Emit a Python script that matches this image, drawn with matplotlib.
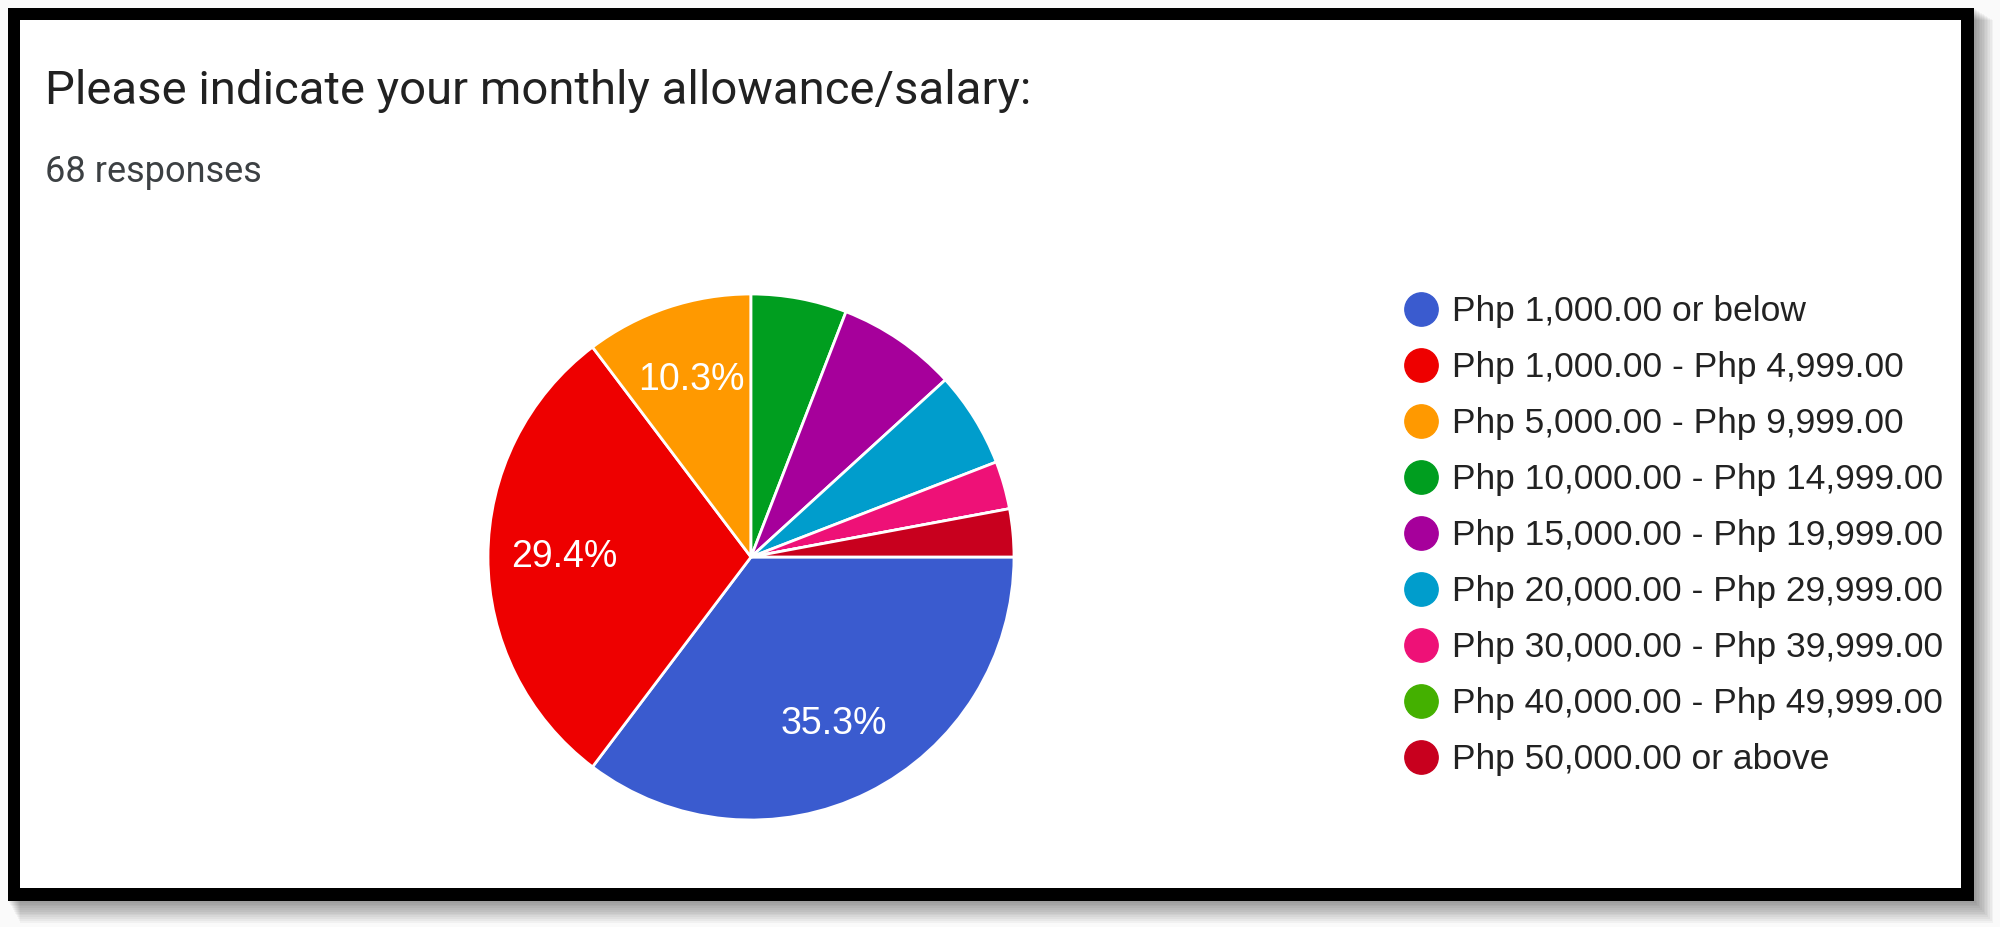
import matplotlib.pyplot as plt
from matplotlib.patches import Rectangle
from matplotlib.lines import Line2D

title = "Please indicate your monthly allowance/salary:"
subtitle = "68 responses"
labels = ["Php 1,000.00 or below", "Php 1,000.00 - Php 4,999.00",
          "Php 5,000.00 - Php 9,999.00", "Php 10,000.00 - Php 14,999.00",
          "Php 15,000.00 - Php 19,999.00", "Php 20,000.00 - Php 29,999.00",
          "Php 30,000.00 - Php 39,999.00", "Php 40,000.00 - Php 49,999.00",
          "Php 50,000.00 or above"]
counts = [24, 20, 7, 4, 5, 4, 2, 0, 2]
colors = ["#3a5bcf", "#ee0000", "#ff9900", "#009e1f", "#a6009b",
          "#009dcc", "#ee1177", "#44b000", "#c8001e"]

W, H = 2000, 927
fig = plt.figure(figsize=(W / 100, H / 100), dpi=100)
fig.patch.set_facecolor("#fafafa")

def px_rect(x0, y0, x1, y1, **kw):
    # image pixel coords (y down) -> figure fraction
    fig.patches.append(Rectangle((x0 / W, 1 - y1 / H), (x1 - x0) / W, (y1 - y0) / H,
                                 transform=fig.transFigure, zorder=-5, **kw))

# drop shadow
for i in range(12, 0, -1):
    px_rect(8 + i, 8 + i, 1974 + i * 1.6, 901 + i * 1.8, color="black", alpha=0.035, lw=0)
px_rect(8, 8, 1974, 901, color="black", lw=0)
px_rect(20, 20, 1961, 888, color="white", lw=0)

fig.text(45 / W, 1 - 91 / H, title, fontsize=34, family="Roboto",
         color="#212121", va="center", ha="left")
fig.text(45 / W, 1 - 172 / H, subtitle, fontsize=26, family="Roboto",
         color="#3c4043", va="center", ha="left")

cx, cy, r = 751, 557, 263
pad = 1.05
ax = fig.add_axes([(cx - r * pad) / W, 1 - (cy + r * pad) / H, 2 * r * pad / W, 2 * r * pad / H])

def pct(p):
    return f"{p:.1f}%" if p >= 10 else ""

wedges, texts, autotexts = ax.pie(counts, colors=colors, startangle=0, counterclock=False,
                                  autopct=pct, pctdistance=0.71,
                                  wedgeprops=dict(edgecolor="white", linewidth=2),
                                  textprops=dict(color="white", fontsize=27, family="Liberation Sans"))
ax.set_xlim(-pad, pad)
ax.set_ylim(-pad, pad)
ax.set_aspect("equal")

handles = [Line2D([], [], marker="o", ls="", markersize=24, markerfacecolor=c,
                  markeredgecolor=c) for c in colors]
fig.legend(handles, labels, loc="upper left", bbox_to_anchor=(1403 / W, 1 - 295 / H),
           frameon=False, prop=dict(family="Liberation Sans", size=25.5),
           labelcolor="#222222", labelspacing=0.65, handletextpad=0.38,
           handlelength=1.0, borderaxespad=0, borderpad=0)

fig.savefig("out.png", dpi=100, facecolor=fig.get_facecolor())
